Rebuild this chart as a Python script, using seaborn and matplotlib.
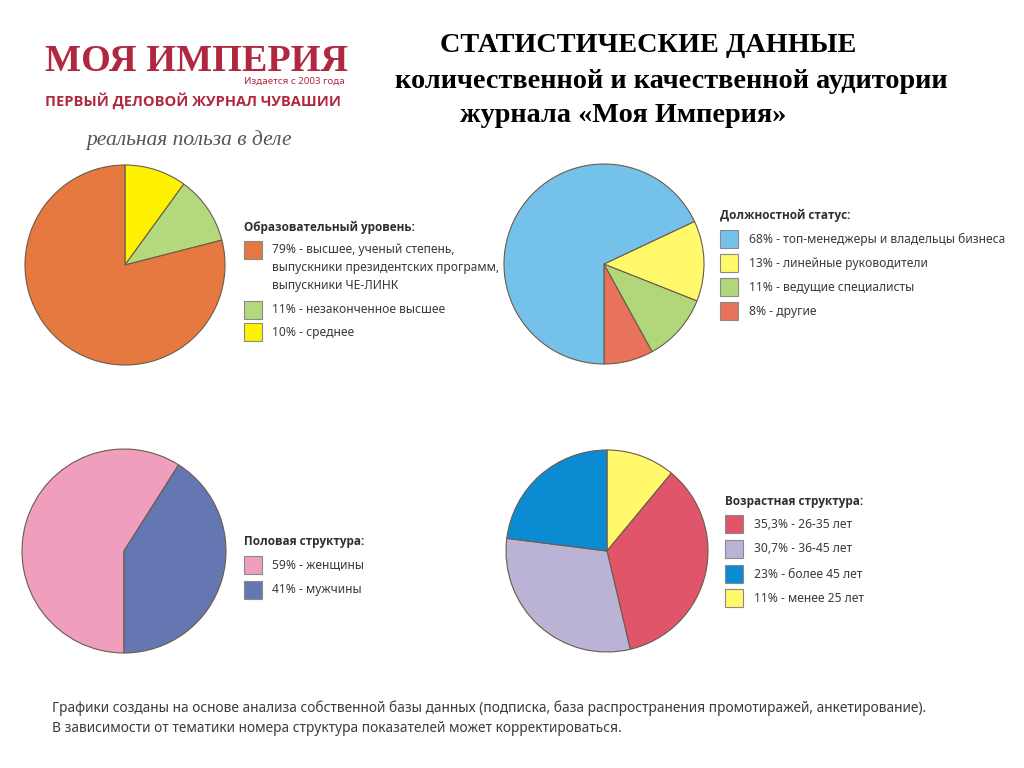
import matplotlib
matplotlib.use("Agg")
import numpy as np
import matplotlib.pyplot as plt
from matplotlib.patches import Rectangle
import seaborn as sns

W, H = 1024, 768

# --- data ---
edu_title = "Образовательный уровень:"
edu_labels = ["79% - высшее, ученый степень,\nвыпускники президентских программ,\nвыпускники ЧЕ-ЛИНК",
              "11% - незаконченное высшее",
              "10% - среднее"]
edu_values = [79, 11, 10]
edu_colors = ["#E5793F", "#B3D97C", "#FFF200"]

status_title = "Должностной статус:"
status_labels = ["68% - топ-менеджеры и владельцы бизнеса",
                 "13% - линейные руководители",
                 "11% - ведущие специалисты",
                 "8% - другие"]
status_values = [68, 13, 11, 8]
status_colors = ["#74C2EA", "#FFF96B", "#B2D77A", "#E8735A"]

gender_title = "Половая структура:"
gender_labels = ["59% - женщины", "41% - мужчины"]
gender_values = [59, 41]
gender_colors = ["#F09EBE", "#6577B3"]

age_title = "Возрастная структура:"
age_labels = ["35,3% - 26-35 лет", "30,7% - 36-45 лет", "23% - более 45 лет", "11% - менее 25 лет"]
age_values = [35.3, 30.7, 23, 11]
age_colors = ["#E0556A", "#BAB3D6", "#0B8CD2", "#FFF96B"]

footer = ["Графики созданы на основе анализа собственной базы данных (подписка, база распространения промотиражей, анкетирование).",
          "В зависимости от тематики номера структура показателей может корректироваться."]

sns.set_theme(style="white")
plt.rcParams['font.family'] = ['Noto Sans', 'DejaVu Sans']
bold_sans = ["Open Sans", "DejaVu Sans"]
serif = ["Liberation Serif", "DejaVu Serif"]

fig = plt.figure(figsize=(W / 100, H / 100), dpi=100)
fig.patch.set_facecolor("white")


def fx(x):
    return x / W


def fy(y):
    return 1 - y / H


def pie_ax(cx, cy, r, values, colors, start, ccw):
    ax = fig.add_axes([fx(cx - 1.25 * r), fy(cy + 1.25 * r), 2.5 * r / W, 2.5 * r / H])
    ax.pie(values, colors=colors, startangle=start, counterclock=ccw,
           wedgeprops=dict(edgecolor="#6a5b4c", linewidth=0.8))
    ax.set_xlim(-1.25, 1.25)
    ax.set_ylim(-1.25, 1.25)
    ax.set_axis_off()
    return ax


def legend(x, ty, title, labels, colors, ys, tx):
    fig.text(fx(x), fy(ty), title, fontsize=8.5, fontweight="bold", family=bold_sans,
             color="#2f2f2f", ha="left", va="center")
    for lab, col, y in zip(labels, colors, ys):
        fig.add_artist(Rectangle((fx(x), fy(y + 9)), 18 / W, 18 / H, transform=fig.transFigure,
                                 facecolor=col, edgecolor="#8a8a8a", linewidth=0.8))
        for i, line in enumerate(lab.split("\n")):
            fig.text(fx(tx), fy(y + i * 18), line, fontsize=8.7, color="#3a3a3a",
                     ha="left", va="center")


# pies
pie_ax(125, 265, 100, edu_values[::-1], edu_colors[::-1], 90, False)
pie_ax(604, 264, 100, status_values[::-1], status_colors[::-1], 270, True)
pie_ax(124, 551, 102, gender_values, gender_colors, 270, False)
pie_ax(607, 551, 101, list(np.roll(age_values, 1)), list(np.roll(age_colors, 1)), 90, False)

# legends
legend(244, 227, edu_title, edu_labels, edu_colors, [250, 310, 332], 272)
legend(720, 215, status_title, status_labels, status_colors, [239, 263, 287, 311], 749)
legend(244, 542, gender_title, gender_labels, gender_colors, [565, 590], 272)
legend(725, 502, age_title, age_labels, age_colors, [524, 549, 574, 598], 754)

# logo
red = "#B0283F"
fig.text(fx(45), fy(71), "МОЯ ИМПЕРИЯ", fontsize=27.5, fontweight="bold", color=red,
         family=serif, ha="left", va="baseline")
fig.text(fx(345), fy(84), "Издается с 2003 года", fontsize=7, color=red, ha="right", va="baseline")
fig.text(fx(45), fy(101), "ПЕРВЫЙ ДЕЛОВОЙ ЖУРНАЛ ЧУВАШИИ", fontsize=10.5, fontweight="bold",
         family=bold_sans, color=red, ha="left", va="center")
fig.text(fx(86), fy(140), "реальная польза в деле", fontsize=15.5, style="italic", color="#555555",
         family=serif, ha="left", va="center")

# title
fig.text(fx(440), fy(46), "СТАТИСТИЧЕСКИЕ ДАННЫЕ", fontsize=20.3, fontweight="bold",
         family=serif, color="black", ha="left", va="center")
fig.text(fx(395), fy(82), "количественной и качественной аудитории", fontsize=20.3,
         fontweight="bold", family=serif, color="black", ha="left", va="center")
fig.text(fx(460), fy(116), "журнала «Моя Империя»", fontsize=20.3, fontweight="bold",
         family=serif, color="black", ha="left", va="center")

# footer
fig.text(fx(52), fy(708), footer[0], fontsize=9.9, color="#3c3c3c", ha="left", va="center")
fig.text(fx(52), fy(728), footer[1], fontsize=9.9, color="#3c3c3c", ha="left", va="center")

fig.savefig("out.png", dpi=100, facecolor="white")
